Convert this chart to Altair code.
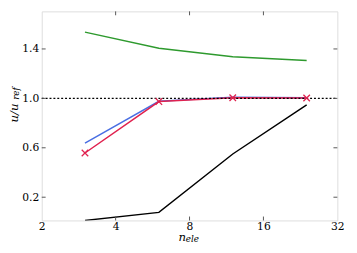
import altair as alt
import pandas as pd

# ---- data ----
n_ele = [3, 6, 12, 24]
green_vals = [1.536, 1.405, 1.337, 1.306]
blue_vals = [0.638, 0.976, 1.010, 1.005]
red_vals = [0.558, 0.974, 1.005, 1.003]
black_vals = [0.012, 0.077, 0.550, 0.948]

series_names = ["a_green", "b_blue", "c_red", "d_black"]
series_colors = ["#2e9a2e", "#4a6fe3", "#e0224f", "#000000"]

x_ticks = [2, 4, 8, 16, 32]
y_ticks = [0.2, 0.6, 1.0, 1.4]
ref_value = [1.0]

W, H = 304, 215
FONT = "DejaVu Serif"

rows = []
for name, vals in zip(series_names, [green_vals, blue_vals, red_vals, black_vals]):
    for n, v in zip(n_ele, vals):
        rows.append({"n": n, "u": v, "series": name})
df = pd.DataFrame(rows)
df_red = pd.DataFrame({"n": n_ele, "u": red_vals})

xscale = alt.Scale(type="log", base=2, domain=[2, 32], nice=False)
yscale = alt.Scale(domain=[0.012, 1.704], nice=False, zero=False)

x_axis = alt.Axis(values=x_ticks, format="d", title=None, grid=False, domain=False,
                  ticks=False, labelFont=FONT, labelFontSize=11, labelColor="black",
                  labelPadding=0, labelFlush=False)
y_axis = alt.Axis(values=y_ticks, format=".1f", title=None, grid=False, domain=False,
                  ticks=False, labelFont=FONT, labelFontSize=11, labelColor="black",
                  labelPadding=3)

lines = alt.Chart(df).mark_line(strokeWidth=1.5, clip=True).encode(
    x=alt.X("n:Q", scale=xscale, axis=x_axis),
    y=alt.Y("u:Q", scale=yscale, axis=y_axis),
    color=alt.Color("series:N", scale=alt.Scale(domain=series_names, range=series_colors),
                    legend=None),
)

xshape = "M-1,-1L1,1M1,-1L-1,1"
markers = alt.Chart(df_red).mark_point(shape=xshape, size=45, filled=False,
                                       strokeWidth=1.3, color="#e0224f", opacity=1).encode(
    x=alt.X("n:Q", scale=xscale),
    y=alt.Y("u:Q", scale=yscale),
)

ref = alt.Chart(pd.DataFrame({"v": ref_value})).mark_rule(
    color="black", strokeDash=[2, 2], strokeWidth=1.5).encode(
    y=alt.Y("v:Q", scale=yscale),
    x=alt.value(0), x2=alt.value(W),
)

ytick_df = pd.DataFrame({"t": y_ticks})
xtick_df = pd.DataFrame({"t": x_ticks[1:-1]})
tick_color = "#555555"
lt = alt.Chart(ytick_df).mark_rule(color=tick_color, strokeWidth=1).encode(
    y=alt.Y("t:Q", scale=yscale), x=alt.value(0), x2=alt.value(4))
rt = alt.Chart(ytick_df).mark_rule(color=tick_color, strokeWidth=1).encode(
    y=alt.Y("t:Q", scale=yscale), x=alt.value(W - 4), x2=alt.value(W))
bt = alt.Chart(xtick_df).mark_rule(color=tick_color, strokeWidth=1).encode(
    x=alt.X("t:Q", scale=xscale), y=alt.value(H - 4), y2=alt.value(H))
tt = alt.Chart(xtick_df).mark_rule(color=tick_color, strokeWidth=1).encode(
    x=alt.X("t:Q", scale=xscale), y=alt.value(0), y2=alt.value(4))

one = alt.Data(values=[{"a": 1}])
def label(txt, x, y, size, angle=0):
    return alt.Chart(one).mark_text(font=FONT, fontStyle="italic", fontSize=size,
                                    align="center", baseline="middle", angle=angle,
                                    color="black").encode(
        x=alt.value(x), y=alt.value(y), text=alt.value(txt))

titles = [
    label("u/u", -28.5, 104.5, 12, 270),
    label("ref", -26.5, 84.5, 9, 270),
    label("n", 144.6, 232.0, 12),
    label("ele", 155.0, 234.5, 9),
]

chart = alt.layer(lines, ref, markers, lt, rt, bt, tt, *titles).properties(
    width=W, height=H,
    autosize=alt.AutoSizeParams(type="none"),
    padding={"left": 34.7, "top": 0, "right": 12, "bottom": 30},
).configure_view(stroke="#555555", strokeWidth=1).configure(background="white")

chart.save("out.html", embed_options={"renderer": "svg", "actions": False})
